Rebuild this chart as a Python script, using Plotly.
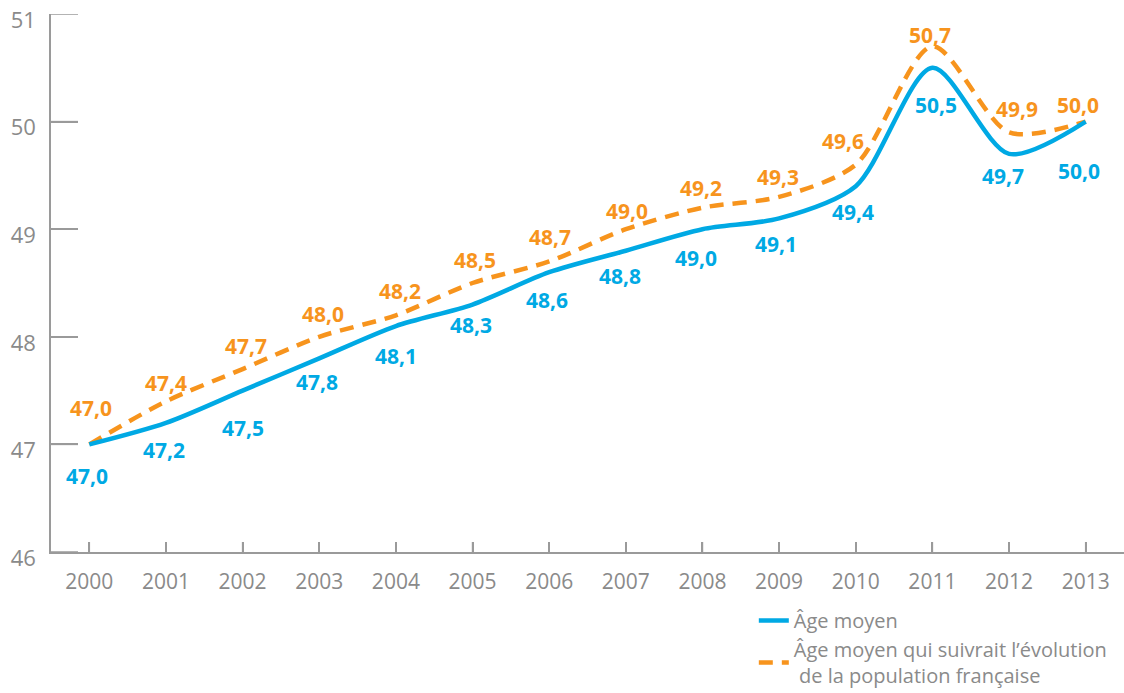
import plotly.graph_objects as go

years = [2000, 2001, 2002, 2003, 2004, 2005, 2006, 2007, 2008, 2009, 2010, 2011, 2012, 2013]
age_moyen = [47.0, 47.2, 47.5, 47.8, 48.1, 48.3, 48.6, 48.8, 49.0, 49.1, 49.4, 50.5, 49.7, 50.0]
age_pop = [47.0, 47.4, 47.7, 48.0, 48.2, 48.5, 48.7, 49.0, 49.2, 49.3, 49.6, 50.7, 49.9, 50.0]
y_ticks = [46, 47, 48, 49, 50, 51]

name_blue = "Âge moyen"
name_orange = "Âge moyen qui suivrait l’évolution<br> de la population française"

BLUE = "#00A9E4"
ORANGE = "#F7941D"
GREY = "#8a8a8a"
AXIS = "#9a9a9a"

# label offsets (pixels) — styling only
blue_dx = [-2, -2, 0, -2, 0, -2, -2, -6, -6, -3, -3, 4, -6, -7]
blue_dy = [32, 27, 37, 24, 30, 20, 28, 25, 29, 26, 26, 37, 22, 49]
orng_dx = [2, 0, 3, 4, 4, 2, 1, 1, -1, -1, -13, -2, 8, -8]
orng_dy = [-36, -18, -23, -23, -24, -23, -24, -18, -20, -20, -24, -11, -23, -17]

def fmt(v):
    return f"{v:.1f}".replace(".", ",")

fig = go.Figure()
fig.add_trace(go.Scatter(
    x=years, y=age_pop, mode="lines", name=name_orange,
    line=dict(color=ORANGE, width=4.5, shape="spline", smoothing=0.8, dash="14px,9px"),
))
fig.add_trace(go.Scatter(
    x=years, y=age_moyen, mode="lines", name=name_blue,
    line=dict(color=BLUE, width=4.5, shape="spline", smoothing=0.8),
))

annotations = []
for i, yr in enumerate(years):
    annotations.append(dict(
        x=yr, y=age_moyen[i], xref="x", yref="y", text=fmt(age_moyen[i]),
        showarrow=False, xshift=blue_dx[i], yshift=-blue_dy[i],
        font=dict(family="Open Sans", size=21, color=BLUE, weight="bold"),
    ))
    annotations.append(dict(
        x=yr, y=age_pop[i], xref="x", yref="y", text=fmt(age_pop[i]),
        showarrow=False, xshift=orng_dx[i], yshift=-orng_dy[i],
        font=dict(family="Open Sans", size=21, color=ORANGE, weight="bold"),
    ))

# short inner tick marks, as in the reference
shapes = []
for v in y_ticks:
    shapes.append(dict(type="line", xref="paper", yref="y", x0=0, x1=27 / 1073, y0=v, y1=v,
                       line=dict(color=AXIS, width=1.5), layer="below"))
for yr in years:
    shapes.append(dict(type="line", xref="x", yref="paper", x0=yr, x1=yr, y0=0, y1=10 / 538,
                       line=dict(color=AXIS, width=1.5), layer="below"))

fig.update_layout(
    width=1124, height=693,
    margin=dict(l=51, r=0, t=14, b=141, autoexpand=False),
    paper_bgcolor="white", plot_bgcolor="white",
    font=dict(family="Open Sans", color=GREY, size=18),
    annotations=annotations,
    shapes=shapes,
    showlegend=True,
    legend=dict(
        x=0.655, y=-0.091, xanchor="left", yanchor="top",
        font=dict(family="Open Sans", size=20, color=GREY),
        traceorder="reversed", bgcolor="rgba(0,0,0,0)", itemwidth=30,
        tracegroupgap=0,
    ),
    xaxis=dict(
        range=[1999.5, 2013.5], tickmode="array", tickvals=years,
        ticktext=[str(y) for y in years], automargin=False,
        showgrid=False, zeroline=False, showline=True, linecolor=AXIS, linewidth=1.5,
        ticks="inside", ticklen=10, tickcolor=AXIS, tickwidth=1.5,
        ticklabelstandoff=10,
        tickfont=dict(family="Open Sans", size=21, color=GREY),
    ),
    yaxis=dict(
        range=[46, 51], tickmode="array", tickvals=y_ticks,
        ticktext=[str(v) for v in y_ticks], automargin=False,
        showgrid=False, zeroline=False, showline=True, linecolor=AXIS, linewidth=1.5,
        ticks="inside", ticklen=27, tickcolor=AXIS, tickwidth=1.5,
        ticklabelstandoff=9, ticklabeloverflow="allow", ticklabelshift=6,
        tickfont=dict(family="Open Sans", size=22, color=GREY),
    ),
)

# remove the default 8px page margin so the figure sits at the window's top-left corner
fig.write_html("out.html", config={"displayModeBar": False},
               post_script="document.body.style.margin='0px';")
